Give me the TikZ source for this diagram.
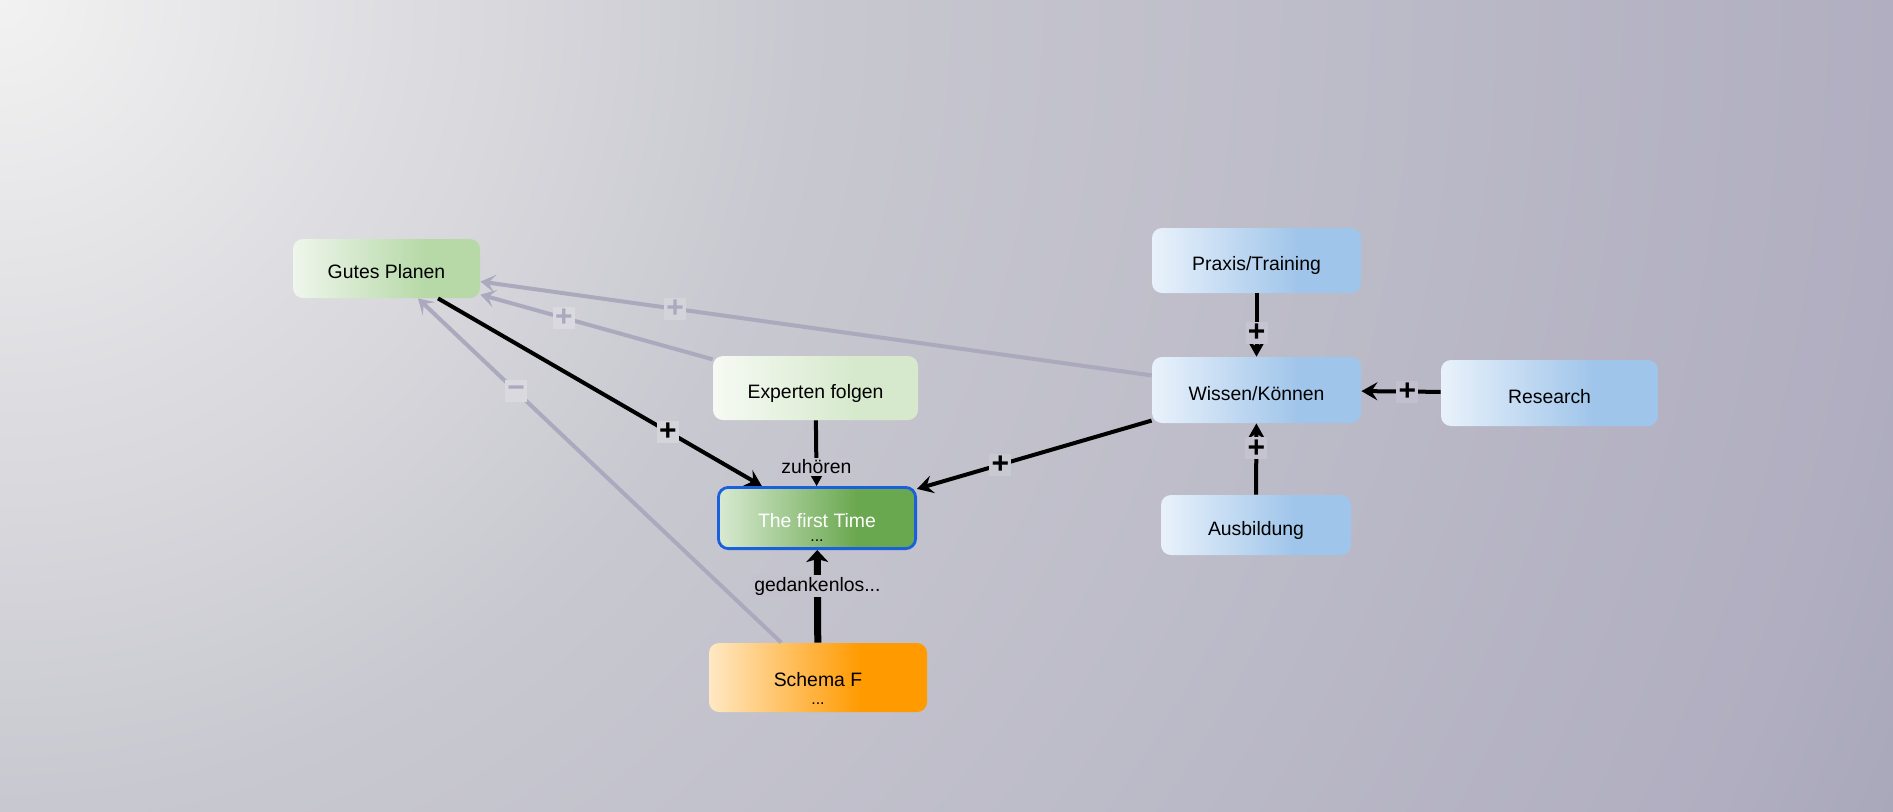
\documentclass[tikz,border=0pt]{standalone}
\usepackage{fontspec}
\setmainfont{Liberation Sans}
\usetikzlibrary{arrows.meta}
\definecolor{bgA}{HTML}{F2F2F2}
\definecolor{bgB}{HTML}{C8C8D0}
\definecolor{bgC}{HTML}{B0AEC0}
\definecolor{bgD}{HTML}{A9A7BA}
\definecolor{edgegray}{HTML}{ABA9BD}
\definecolor{nodeL}{HTML}{FFFFFF}
\definecolor{nodeR}{HTML}{FFFFFF}
\definecolor{gpL}{HTML}{EFF6EC}\definecolor{gpR}{HTML}{B7D9A8}
\definecolor{exL}{HTML}{F6FAF3}\definecolor{exR}{HTML}{D6E9CC}
\definecolor{ftL}{HTML}{D8EAD2}\definecolor{ftR}{HTML}{6AA84F}
\definecolor{ftB}{HTML}{1A5FDC}
\definecolor{sfL}{HTML}{FFE8C4}\definecolor{sfR}{HTML}{FF9A00}
\definecolor{blL}{HTML}{E9F2FB}\definecolor{blR}{HTML}{A0C5EA}
\definecolor{lb1}{HTML}{D4D4DA}
\definecolor{lb2}{HTML}{C9C9D2}
\definecolor{lb3}{HTML}{D3D3DA}
\definecolor{lb4}{HTML}{D9D9DF}
\definecolor{lb5}{HTML}{D9D9DF}
\definecolor{lb6}{HTML}{C5C4D0}
\definecolor{lb7}{HTML}{C4C3CF}
\definecolor{lb8}{HTML}{C2C0CE}
\definecolor{lz}{HTML}{C6C5CF}
\definecolor{lg}{HTML}{C4C3CD}
\pgfdeclareradialshading{bgshade}{\pgfpoint{0bp}{0bp}}{color(0bp)=(bgA); color(9.75bp)=(bgB); color(23bp)=(bgC); color(25bp)=(bgD); color(50bp)=(bgD)}
\pgfdeclarehorizontalshading[nodeL,nodeR]{nodeshade}{100bp}{color(0bp)=(nodeL); color(25bp)=(nodeL); color(60bp)=(nodeR); color(100bp)=(nodeR)}
\tikzset{
  pal/.style 2 args={/utils/exec={\colorlet{nodeL}{#1}\colorlet{nodeR}{#2}}, shade, shading=nodeshade},
  box/.style={rounded corners=5pt, inner sep=0pt, text height=10pt, text depth=0pt,
    font=\fontsize{9.7}{11}\selectfont, align=center},
  dots/.style={label={[inner sep=0pt, font=\fontsize{8}{8}\selectfont, text=black, yshift=#1]center:...}},
  blk/.style={draw=black, line width=2pt, -{Stealth[length=8pt,width=9pt,inset=3pt]}},
  gry/.style={draw=edgegray, line width=2pt, -{Stealth[length=7.5pt,width=9pt,inset=3.5pt]}},
  sgn/.style={font=\fontsize{15}{15}\selectfont\bfseries, inner sep=0pt, minimum size=11pt},
  sgnB/.style={sgn, fill=#1, text=black},
  sgnG/.style={sgn, fill=#1, text=edgegray},
  elab/.style={fill=#1, inner sep=1pt, font=\fontsize{9.7}{11}\selectfont, text=black},
}
\begin{document}
\begin{tikzpicture}[x=0.5pt,y=-0.5pt]
\useasboundingbox (0,0) rectangle (1893,811);
\begin{scope}
\clip (0,0) rectangle (1893,811);
\shade[shading=bgshade] (0,0) circle[radius=2060];
\end{scope}

% nodes
\node[box, pal={gpL}{gpR}, minimum width=93.5pt, minimum height=29.5pt] (gp) at (386.5,268.5) {Gutes Planen};
\node[box, pal={exL}{exR}, minimum width=102.5pt, minimum height=32pt] (ex) at (815.5,388) {Experten folgen};
\node[box, pal={ftL}{ftR}, draw=ftB, line width=1.4pt, minimum width=98.6pt, minimum height=30.6pt,
  text=white, text height=9.2pt, dots=-11.5pt] (ft) at (817,518) {The first Time};
\node[box, pal={sfL}{sfR}, minimum width=109pt, minimum height=34.5pt, text height=9.2pt,
  dots=-13pt] (sf) at (818,677.5) {Schema F};
\node[box, pal={blL}{blR}, minimum width=104.5pt, minimum height=32.5pt] (pt) at (1256.5,260.5) {Praxis/Training};
\node[box, pal={blL}{blR}, minimum width=104.5pt, minimum height=33pt] (wk) at (1256.5,390) {Wissen/Können};
\node[box, pal={blL}{blR}, minimum width=108.5pt, minimum height=33pt] (rs) at (1549.5,393) {Research};
\node[box, pal={blL}{blR}, minimum width=95pt, minimum height=30pt] (ab) at (1256,525) {Ausbildung};

% gray connectors
\draw[gry] (wk) -- node[pos=0.71, sgnG=lb3] {+} (gp);
\draw[gry] (ex) -- node[pos=0.64, sgnG=lb4] {+} (gp);
\draw[gry] (sf) -- node[pos=0.73, sgnG=lb5] {−} (gp);

% black connectors
\draw[blk] (gp) -- node[pos=0.71, sgnB=lb1] {+} (ft);
\draw[blk] (wk) -- node[pos=0.645, sgnB=lb2] {+} (ft);
\draw[blk] (ex) -- node[pos=0.71, elab=lz] {zuhören} (ft);
\draw[draw=black, line width=3.5pt, -{Stealth[length=6pt,width=11pt,inset=1.5pt]}] (sf) -- node[pos=0.61, elab=lg] {gedankenlos...} (ft);
\draw[blk] (pt) -- node[pos=0.625, sgnB=lb6] {+} (wk);
\draw[blk] (ab) -- node[pos=0.65, sgnB=lb7] {+} (wk);
\draw[blk] (rs) -- node[pos=0.42, sgnB=lb8] {+} (wk);
\end{tikzpicture}
\end{document}
